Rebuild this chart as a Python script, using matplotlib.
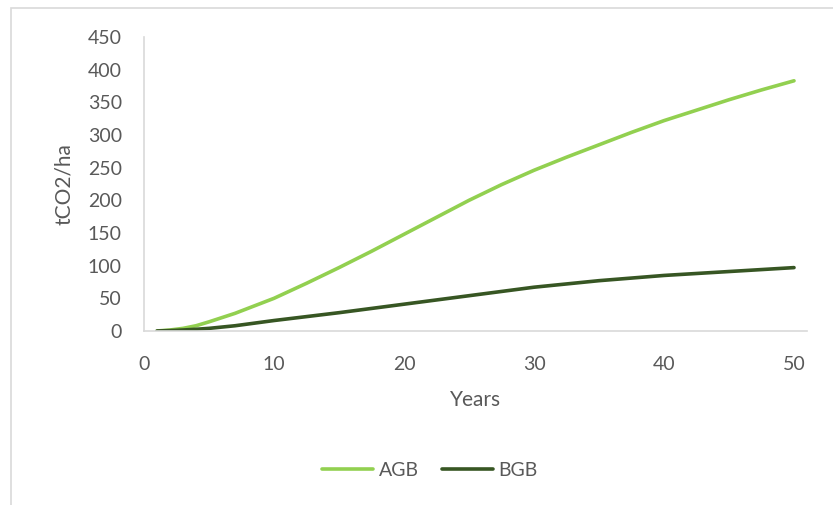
import matplotlib.pyplot as plt
from matplotlib.patches import Rectangle

# carbon stock per hectare over the rotation
agb_years = [1, 2, 3, 4, 5, 7, 10, 12.5, 15, 17.5, 20, 22.5, 25, 27.5, 30,
             32.5, 35, 37.5, 40, 42.5, 45, 47.5, 50]
agb = [0, 1.5, 4, 8, 14, 27, 50, 73, 97, 122, 148, 174, 200, 224, 246,
       266, 285, 304, 322, 338, 354, 369, 383]

bgb_years = [1, 2, 3, 4, 5, 7, 10, 12.5, 15, 17.5, 20, 22.5, 25, 27.5, 30,
             32.5, 35, 37.5, 40, 42.5, 45, 47.5, 50]
bgb = [0, 0.6, 1.5, 2.6, 4, 8, 16, 22, 28, 34.5, 41, 47.5, 54, 60.5, 67,
       72, 77, 81, 85, 88, 91, 94, 97]

x_ticks = [0, 10, 20, 30, 40, 50]
y_ticks = [0, 50, 100, 150, 200, 250, 300, 350, 400, 450]

plt.rcParams['font.family'] = ['Lato', 'DejaVu Sans']
grey_text = '#595959'
axis_grey = '#d9d9d9'

fig = plt.figure(figsize=(8.33, 5.05), dpi=100)
ax = fig.add_axes([0.1729, 0.3446, 0.7959, 0.5821])

ax.plot(agb_years, agb, color='#92D050', lw=2.6, label='AGB', solid_capstyle='round')
ax.plot(bgb_years, bgb, color='#375623', lw=2.6, label='BGB', solid_capstyle='round')

ax.set_xlim(0, 51)
ax.set_ylim(0, 450)
ax.set_xticks(x_ticks)
ax.set_yticks(y_ticks)
ax.tick_params(length=0, labelsize=14, labelcolor=grey_text)
ax.tick_params(axis='x', pad=18)
ax.tick_params(axis='y', pad=16)

for side in ['top', 'right']:
    ax.spines[side].set_visible(False)
for side in ['left', 'bottom']:
    ax.spines[side].set_color(axis_grey)
    ax.spines[side].set_linewidth(1.2)

ax.set_ylabel('tCO2/ha', fontsize=15, color=grey_text, labelpad=10)
ax.set_xlabel('Years', fontsize=15, color=grey_text, labelpad=12)

fig.legend(loc='center', bbox_to_anchor=(430 / 833, 1 - 470 / 505), ncol=2,
           frameon=False, fontsize=14, labelcolor=grey_text,
           handlelength=2.6, handletextpad=0.3, columnspacing=1.2)

# chart area border
fig.patches.append(Rectangle((10.5 / 833, -0.05), 1.2, 1 - 7.5 / 505 + 0.05,
                             transform=fig.transFigure, fill=False,
                             edgecolor=axis_grey, lw=1.2))

fig.savefig('out.png', dpi=100)
